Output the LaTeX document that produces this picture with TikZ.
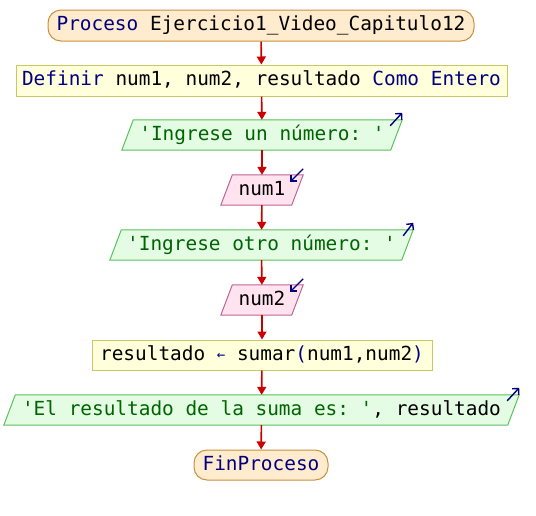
\documentclass[tikz,border=0pt]{standalone}
\usepackage{fontspec}
\setmonofont{DejaVu Sans Mono}
\usetikzlibrary{arrows.meta}
\pgfdeclarelayer{background}
\pgfsetlayers{background,main}
\definecolor{kw}{HTML}{000080}
\definecolor{str}{HTML}{006400}
\definecolor{flow}{HTML}{CC0000}
\definecolor{termfill}{HTML}{FFEBCD}
\definecolor{termdraw}{HTML}{C8903C}
\definecolor{asgfill}{HTML}{FFFFDC}
\definecolor{asgdraw}{HTML}{C8C864}
\definecolor{outfill}{HTML}{E4FCE4}
\definecolor{outdraw}{HTML}{5CC05C}
\definecolor{infill}{HTML}{FFE4F0}
\definecolor{indraw}{HTML}{C06496}
\tikzset{
  base/.style={inner sep=0pt, font=\ttfamily\fontsize{19.4}{22}\selectfont, text height=14.2pt, text depth=4pt, anchor=center},
  term/.style={base, rectangle, rounded corners=13pt, draw=termdraw, fill=termfill, line width=1pt, minimum height=31pt},
  asg/.style={base, rectangle, draw=asgdraw, fill=asgfill, line width=1pt, minimum height=31pt},
  txt/.style={base, minimum height=30pt},
  flowarrow/.style={draw=flow, line width=1.6pt, -{Triangle[width=9pt,length=8pt]}},
  ioarrow/.style={draw=kw, line width=1.4pt, -{Straight Barb[length=4.5pt,width=9pt]}},
  outshape/.style={fill=outfill, draw=outdraw, line width=1pt},
  inshape/.style={fill=infill, draw=indraw, line width=1pt},
}
\newcommand{\pgram}[3]{% node, slant, style
  \begin{pgfonlayer}{background}
  \path[#3] (#1.south west) -- ([xshift=#2]#1.north west) -- (#1.north east) -- ([xshift=-#2]#1.south east) -- cycle;
  \end{pgfonlayer}}
\begin{document}
\begin{tikzpicture}[x=1pt,y=-1pt]
\useasboundingbox (0,0) rectangle (536,515);
\begin{pgfonlayer}{background}
\fill[white] (0,0) rectangle (536,515);
\end{pgfonlayer}

\node[term, minimum width=426pt] (start) at (261,25.5) {\textcolor{kw}{Proceso} Ejercicio1\_Video\_Capitulo12};
\node[asg, minimum width=491pt] (def) at (261.5,80.5) {\textcolor{kw}{Definir} num1, num2, resultado \textcolor{kw}{Como Entero}};
\node[txt, minimum width=280pt] (out1) at (262,135) {\textcolor{str}{'Ingrese un número: '}};
\node[txt, minimum width=82pt] (in1) at (262,190) {num1};
\node[txt, minimum width=303pt] (out2) at (261.5,245) {\textcolor{str}{'Ingrese otro número: '}};
\node[txt, minimum width=82pt] (in2) at (262,300) {num2};
\node[asg, minimum width=340pt, minimum height=30pt] (asg) at (262,355) {resultado \textcolor{kw}{\fontsize{14}{16}\selectfont\raisebox{1pt}{←}} sumar\textcolor{kw}{(}num1,num2\textcolor{kw}{)}};
\node[txt, minimum width=515pt] (out3) at (261.5,410) {\textcolor{str}{'El resultado de la suma es: '}, resultado};
\node[term, minimum width=134pt, minimum height=30pt] (end) at (261,465) {\textcolor{kw}{FinProceso}};

\pgram{out1}{11.5pt}{outshape}
\pgram{in1}{11.5pt}{inshape}
\pgram{out2}{11.5pt}{outshape}
\pgram{in2}{11.5pt}{inshape}
\pgram{out3}{11.5pt}{outshape}

\draw[flowarrow] (start) -- (def);
\draw[flowarrow] (def) -- (out1);
\draw[flowarrow] (out1) -- (in1);
\draw[flowarrow] (in1) -- (out2);
\draw[flowarrow] (out2) -- (in2);
\draw[flowarrow] (in2) -- (asg);
\draw[flowarrow] (asg) -- (out3);
\draw[flowarrow] (out3) -- (end);

% I/O direction marks
\draw[ioarrow] ([xshift=-12pt,yshift=-6pt]out1.north east) -- ([yshift=7pt]out1.north east);
\draw[ioarrow] ([yshift=6pt]in1.north east) -- ([xshift=-13pt,yshift=-7pt]in1.north east);
\draw[ioarrow] ([xshift=-10pt,yshift=-6pt]out2.north east) -- ([yshift=7pt]out2.north east);
\draw[ioarrow] ([yshift=6pt]in2.north east) -- ([xshift=-13pt,yshift=-7pt]in2.north east);
\draw[ioarrow] ([xshift=-12pt,yshift=-6pt]out3.north east) -- ([yshift=7pt]out3.north east);
\end{tikzpicture}
\end{document}
